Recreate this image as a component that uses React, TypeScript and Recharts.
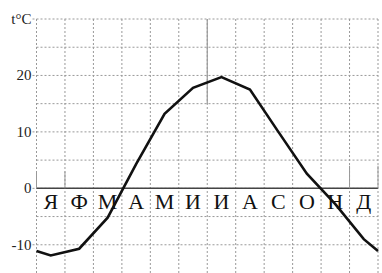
import React from 'react';
import { LineChart, Line, XAxis, YAxis, CartesianGrid, ReferenceLine, ReferenceDot } from 'recharts';

const months = ['Я', 'Ф', 'М', 'А', 'М', 'И', 'И', 'А', 'С', 'О', 'Н', 'Д'];
const temps = [-11.9, -10.7, -5.2, 4.3, 13.2, 17.8, 19.7, 17.5, 10.0, 2.6, -2.8, -9.0];
// curve continues to the edges of the year
const startTemp = -11.1;
const endTemp = -11.1;

const yTicks = [-10, 0, 10, 20, 30];
const gridY = [-10, -5, 0, 5, 10, 15, 20, 25, 30];
const gridX = [0, 1, 2, 3, 4, 5, 6, 7, 8, 9, 10, 11, 12];

const data = [
  { x: 0, t: startTemp },
  ...temps.map((t, i) => ({ x: i + 0.5, t })),
  { x: 12, t: endTemp },
];

const serif = "'Liberation Serif', serif";

const YTick = (props: any) => {
  const { x, y, payload } = props;
  const v = payload.value;
  return (
    <text x={x} y={y} dy={5} textAnchor="end" fill="#222" fontSize={15} fontFamily={serif}>
      {v === 30 ? 't°C' : String(v)}
    </text>
  );
};

const monthLabel = (m: string) => (props: any) => {
  const vb = props.viewBox || {};
  return (
    <text x={vb.x} y={vb.y + 21} textAnchor="middle" fill="#111" fontSize={22} fontFamily={serif}>
      {m}
    </text>
  );
};

export default function App() {
  return (
    <div style={{ position: 'fixed', left: 0, top: 0, background: '#fff' }}>
      <LineChart width={382} height={273} data={data} margin={{ top: 19, right: 4, bottom: 0, left: 0 }}>
        <CartesianGrid
          stroke="#999"
          strokeDasharray="2 2"
          horizontalValues={gridY}
          verticalValues={gridX}
        />
        <XAxis dataKey="x" type="number" domain={[0, 12]} hide height={0} />
        <YAxis
          type="number"
          domain={[-15, 30]}
          ticks={yTicks}
          width={36.5}
          axisLine={false}
          tickSize={4}
          tickMargin={1}
          tickLine={{ stroke: '#999', strokeDasharray: '2 2' }}
          tick={<YTick />}
        />
        <ReferenceLine y={0} stroke="#444" strokeWidth={1.5} />
        <ReferenceLine segment={[{ x: 6, y: 15 }, { x: 6, y: 30 }]} stroke="#999" strokeWidth={1.2} />
        <ReferenceLine segment={[{ x: 0, y: 0 }, { x: 0, y: 3 }]} stroke="#999" />
        <ReferenceLine segment={[{ x: 1, y: 0 }, { x: 1, y: 3 }]} stroke="#999" />
        <ReferenceLine segment={[{ x: 11, y: 0 }, { x: 11, y: 4 }]} stroke="#999" />
        <ReferenceLine segment={[{ x: 12, y: 0 }, { x: 12, y: 4 }]} stroke="#999" />
        {months.map((m, i) => (
          <ReferenceDot
            key={i}
            x={i + 0.5}
            y={0}
            r={0}
            fill="none"
            stroke="none"
            label={monthLabel(m)}
          />
        ))}
        <Line
          type="linear"
          dataKey="t"
          stroke="#111"
          strokeWidth={2.6}
          dot={false}
          isAnimationActive={false}
        />
      </LineChart>
    </div>
  );
}
